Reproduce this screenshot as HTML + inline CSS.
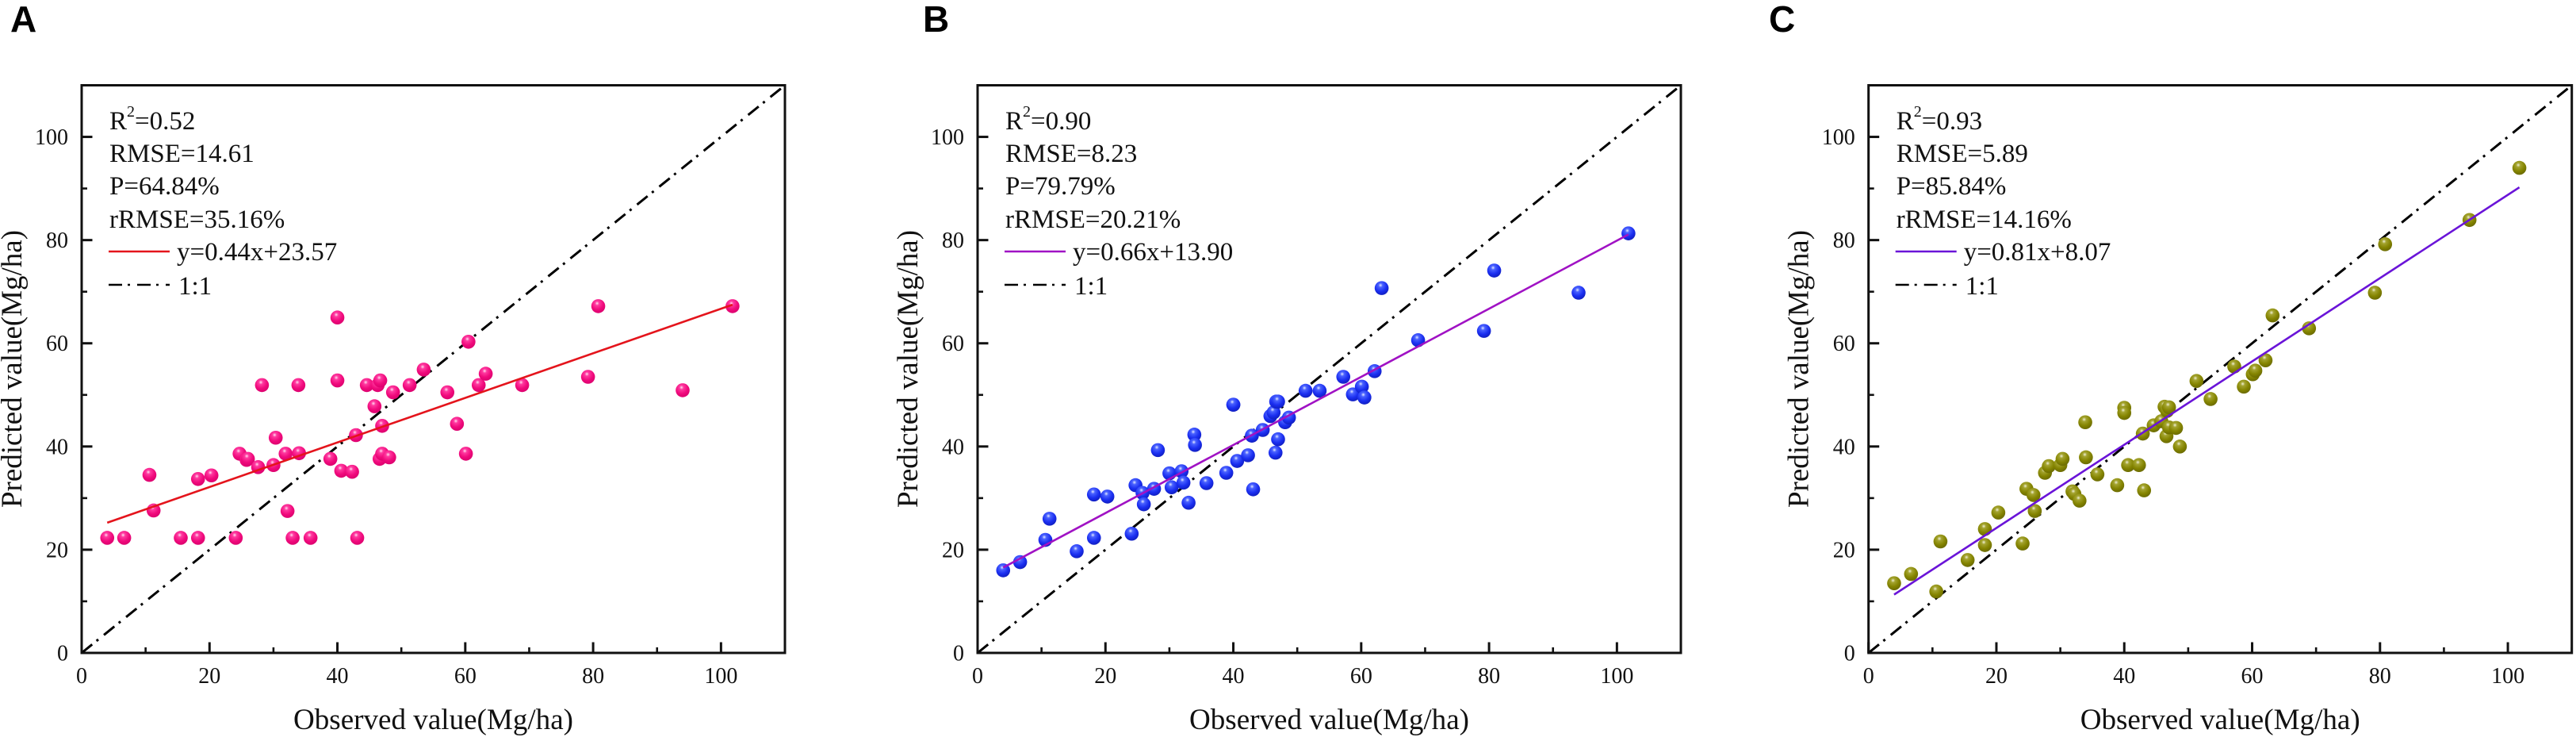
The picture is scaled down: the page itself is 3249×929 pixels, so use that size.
<!DOCTYPE html>
<html lang="en">
<head>
<meta charset="utf-8">
<title>Observed vs predicted value</title>
<style>
html,body{margin:0;padding:0;background:#fff;}
body{width:3249px;height:929px;overflow:hidden;}
svg{display:block;}
text{font-family:"Liberation Serif",serif;fill:#111;}
.letter{font-family:"Liberation Sans",sans-serif;font-weight:bold;font-size:46px;fill:#000;}
.tick{font-size:28px;}
.title{font-size:37px;}
.stat{font-size:33px;}
</style>
</head>
<body>
<svg id="figure" xmlns="http://www.w3.org/2000/svg" width="3249" height="929" viewBox="0 0 3249 929">
<defs>
<radialGradient id="ball-pink" cx="0.42" cy="0.3" r="0.75"><stop offset="0" stop-color="#ffe0f0"/><stop offset="0.2" stop-color="#ff3aa0"/><stop offset="0.6" stop-color="#f00a7c"/><stop offset="1" stop-color="#d8006c"/></radialGradient>
<radialGradient id="ball-blue" cx="0.42" cy="0.3" r="0.75"><stop offset="0" stop-color="#e4eaff"/><stop offset="0.2" stop-color="#4a62ff"/><stop offset="0.6" stop-color="#1a2ef0"/><stop offset="1" stop-color="#0f1cb8"/></radialGradient>
<radialGradient id="ball-olive" cx="0.42" cy="0.3" r="0.75"><stop offset="0" stop-color="#f0f0d8"/><stop offset="0.2" stop-color="#a4a430"/><stop offset="0.6" stop-color="#848400"/><stop offset="1" stop-color="#666600"/></radialGradient>
</defs>
</svg>
<script>
var observed = [4.0,6.65,10.6,11.25,15.5,18.2,18.2,20.3,24.1,24.7,25.8,26,27.6,28.2,30,30.35,31.9,32.2,33,33.9,34,35.8,38.9,40,40,40.6,42.3,42.9,43.1,44.6,45.8,46.3,46.6,46.7,47,47,48.1,48.7,51.3,53.5,57.2,58.7,60.1,60.5,62.1,63.2,68.9,79.2,80.8,94,101.8];
var predictedA = [22.3,22.3,34.5,27.6,22.3,33.7,22.3,34.4,22.3,38.6,37.4,37.6,36,51.9,36.4,41.7,38.6,27.5,22.3,51.9,38.7,22.3,37.6,65,52.8,35.3,35.1,42.2,22.3,51.9,47.8,51.9,37.6,52.8,44,38.6,37.9,50.5,51.9,54.9,50.5,44.4,38.6,60.3,51.9,54.1,51.9,53.5,67.2,50.9,67.2];
var predictedB = [16,17.6,21.9,26,19.7,30.7,22.3,30.3,23.1,32.5,31,28.8,31.8,39.3,34.8,32.1,35.2,33,29.1,42.3,40.3,32.9,34.9,48.1,48.1,37.2,38.3,42.1,31.7,43.2,45.9,46.6,38.8,48.7,41.4,48.7,44.7,45.6,50.8,50.8,53.5,50.1,51.6,49.5,54.6,70.7,60.6,62.4,74.1,69.8,81.3];
var predictedC = [13.5,15.3,11.9,21.6,18,24,20.9,27.2,21.2,31.8,30.6,27.5,34.9,36.2,36.4,37.6,31.3,30.8,29.5,44.7,37.9,34.6,32.5,47.5,46.5,36.4,36.4,42.5,31.5,44.1,44.9,47.7,42,46.9,43.7,47.6,43.6,40,52.7,49.2,55.5,51.6,54,54.7,56.7,65.4,62.9,69.8,79.2,83.9,94];
var tickValues = [0,20,40,60,80,100];
var minorTickValues = [10,30,50,70,90,110];
var axisDomain = [0,110];
var panelLetters = ["A","B","C"];
var r2Labels = ["0.52","0.90","0.93"];
var rmseLabels = ["14.61","8.23","5.89"];
var pLabels = ["64.84%","79.79%","85.84%"];
var rrmseLabels = ["35.16%","20.21%","14.16%"];
var fitSlopes = [0.432,0.66,0.807];
var fitIntercepts = [23.5,13.90,8.07];
var fitLabels = ["y=0.44x+23.57","y=0.66x+13.90","y=0.81x+8.07"];

var SVGNS = "http://www.w3.org/2000/svg";
var fig = document.getElementById("figure");
var allPredicted = [predictedA, predictedB, predictedC];
var panelLeft = [103, 1233, 2356.7];
var letterX = [13, 1164, 2231];
var fitColors = ["#e4141c", "#a012c4", "#6a14d8"];
var balls = ["url(#ball-pink)", "url(#ball-blue)", "url(#ball-olive)"];
var plotW = 887, plotTop = 107.5, plotBottom = 823;

function mk(parent, tag, attrs, txt) {
  var e = document.createElementNS(SVGNS, tag);
  for (var k in attrs) { e.setAttribute(k, attrs[k]); }
  if (txt !== undefined) { e.textContent = txt; }
  parent.appendChild(e);
  return e;
}

panelLetters.forEach(function (letter, p) {
  var L = panelLeft[p];
  function xs(v) { return L + (v - axisDomain[0]) / (axisDomain[1] - axisDomain[0]) * plotW; }
  function ys(v) { return plotBottom - (v - axisDomain[0]) / (axisDomain[1] - axisDomain[0]) * (plotBottom - plotTop); }

  var g = mk(fig, "g", {});
  
  

  var lt = mk(g, "text", {"class": "letter", x: letterX[p], y: 40}, letter);
  
  

  // 1:1 reference line (behind points)
  var ref = mk(g, "line", {x1: xs(0), y1: ys(0), x2: xs(110), y2: ys(110), stroke: "#000", "stroke-width": 3, "stroke-dasharray": "17 7 3 9"});
  
  

  // points
  var pts = mk(g, "g", {});
  
  
  observed.forEach(function (ox, i) {
    var c = mk(pts, "circle", {cx: xs(ox), cy: ys(allPredicted[p][i]), r: 8.8, fill: balls[p]});
    
    
  });

  // fit line
  var xStart = observed[0], xEnd = observed[observed.length - 1];
  var fit = mk(g, "line", {x1: xs(xStart), y1: ys(fitSlopes[p] * xStart + fitIntercepts[p]), x2: xs(xEnd), y2: ys(fitSlopes[p] * xEnd + fitIntercepts[p]), stroke: fitColors[p], "stroke-width": 2.6});
  
  

  // frame
  var frame = mk(g, "rect", {x: L, y: plotTop, width: plotW, height: plotBottom - plotTop, fill: "none", stroke: "#111", "stroke-width": 3});
  
  

  // ticks
  tickValues.forEach(function (v) {
    var a = mk(g, "line", {x1: xs(v), x2: xs(v), y1: plotBottom, y2: plotBottom - 13.5, stroke: "#111", "stroke-width": 3});
    
    
    var b = mk(g, "line", {y1: ys(v), y2: ys(v), x1: L, x2: L + 13.5, stroke: "#111", "stroke-width": 3});
    
    
    var xl = mk(g, "text", {"class": "tick", x: xs(v), y: 861, "text-anchor": "middle"}, String(v));
    
    
    var yl = mk(g, "text", {"class": "tick", x: L - 17, y: ys(v) + 9.5, "text-anchor": "end"}, String(v));
    
    
  });
  minorTickValues.forEach(function (v) {
    var a = mk(g, "line", {x1: xs(v), x2: xs(v), y1: plotBottom, y2: plotBottom - 7, stroke: "#111", "stroke-width": 2.6});
    
    
    var b = mk(g, "line", {y1: ys(v), y2: ys(v), x1: L, x2: L + 7, stroke: "#111", "stroke-width": 2.6});
    
    
  });

  // axis titles
  var xt = mk(g, "text", {"class": "title", x: L + plotW / 2, y: 919, "text-anchor": "middle", textLength: 353, lengthAdjust: "spacingAndGlyphs"}, "Observed value(Mg/ha)");
  
  
  var yt = mk(g, "text", {"class": "title", "text-anchor": "middle", transform: "translate(" + (L - 76) + ",465) rotate(-90)", textLength: 350, lengthAdjust: "spacingAndGlyphs"}, "Predicted value(Mg/ha)");
  
  

  // stats block
  var sx = L + 35;
  var r2 = mk(g, "text", {"class": "stat", x: sx, y: 163});
  
  
  mk(r2, "tspan", {}, "R");
  mk(r2, "tspan", {dy: -16, "font-size": "20px"}, "2");
  mk(r2, "tspan", {dy: 16}, "=" + r2Labels[p]);
  var s2 = mk(g, "text", {"class": "stat", x: sx, y: 204}, "RMSE=" + rmseLabels[p]);
  
  
  var s3 = mk(g, "text", {"class": "stat", x: sx, y: 245}, "P=" + pLabels[p]);
  
  
  var s4 = mk(g, "text", {"class": "stat", x: sx, y: 287}, "rRMSE=" + rrmseLabels[p]);
  
  

  // legend
  var l1 = mk(g, "line", {x1: sx - 1, x2: sx + 76, y1: 317, y2: 317, stroke: fitColors[p], "stroke-width": 2.6});
  
  
  var t1 = mk(g, "text", {"class": "stat", x: sx + 85, y: 328}, fitLabels[p]);
  
  
  var l2 = mk(g, "line", {x1: sx - 1, x2: sx + 76, y1: 359, y2: 359, stroke: "#000", "stroke-width": 2.6, "stroke-dasharray": "17 7 3 9"});
  
  
  var t2 = mk(g, "text", {"class": "stat", x: sx + 87, y: 371}, "1:1");
  
  
});
</script>
</body>
</html>
